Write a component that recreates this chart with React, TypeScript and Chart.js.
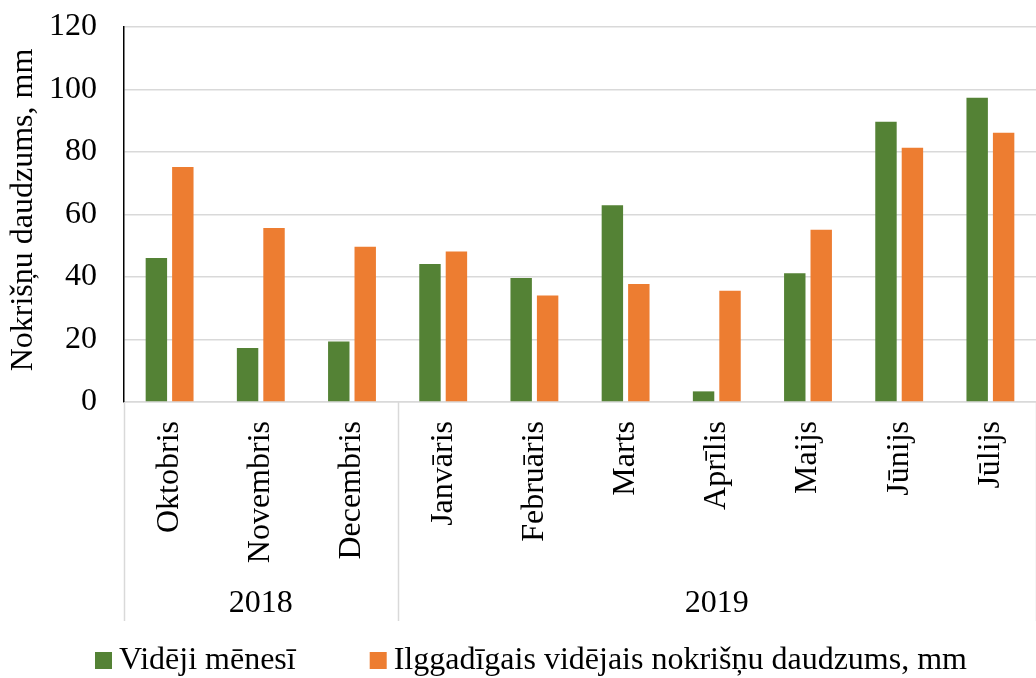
import React, { useEffect, useRef } from "react";
import { Chart, registerables } from "chart.js";

Chart.register(...registerables);

const months = ["Oktobris", "Novembris", "Decembris", "Janvāris", "Februāris", "Marts", "Aprīlis", "Maijs", "Jūnijs", "Jūlijs"];
const years = ["2018", "2019"];
const yearSpans = [3, 7];
const monthlyAvg = [46.1, 17.3, 19.4, 44.2, 39.7, 63.0, 3.4, 41.2, 89.7, 97.4];
const longTermAvg = [75.2, 55.7, 49.7, 48.2, 34.1, 37.8, 35.6, 55.1, 81.4, 86.2];
const yMin = 0;
const yMax = 120;
const yStep = 20;
const seriesNames = ["Vidēji mēnesī", "Ilggadīgais vidējais nokrišņu daudzums, mm"];
const yTitle = "Nokrišņu daudzums, mm";

const GREEN = "#548235";
const ORANGE = "#ED7D31";
const FONT = "Liberation Serif";
const FS = 32;

const W = 1036;
const H = 678;

const extrasPlugin = {
  id: "extras",
  afterDraw(chart: any) {
    const ctx = chart.ctx;
    const xs = chart.scales.x;
    const area = chart.chartArea;
    const n = months.length;
    const cw = (xs.right - xs.left) / n;
    ctx.save();
    // separators and year labels
    ctx.strokeStyle = "#d9d9d9";
    ctx.lineWidth = 1.5;
    let start = 0;
    const bounds: number[] = [0];
    yearSpans.forEach((s) => {
      start += s;
      bounds.push(start);
    });
    bounds.forEach((b) => {
      const x = Math.round(xs.left + b * cw) + 0.5;
      ctx.beginPath();
      ctx.moveTo(x, area.bottom);
      ctx.lineTo(x, 621);
      ctx.stroke();
    });
    ctx.fillStyle = "#000";
    ctx.font = `${FS}px "${FONT}"`;
    ctx.textAlign = "center";
    ctx.textBaseline = "middle";
    years.forEach((y, i) => {
      const cx = xs.left + ((bounds[i] + bounds[i + 1]) / 2) * cw;
      ctx.fillText(y, cx, 604);
    });
    // y axis title
    ctx.save();
    ctx.translate(24, 210);
    ctx.rotate(-Math.PI / 2);
    ctx.fillText(yTitle, 0, 0);
    ctx.restore();
    // legend
    const colors = [GREEN, ORANGE];
    let lx = 95;
    const ly = 661;
    ctx.textAlign = "left";
    seriesNames.forEach((name, i) => {
      ctx.fillStyle = colors[i];
      ctx.fillRect(lx, ly - 9, 17, 17);
      ctx.fillStyle = "#000";
      const tx = lx + 24;
      ctx.fillText(name, tx, ly);
      lx = tx + ctx.measureText(name).width + 74;
    });
    ctx.restore();
  },
};

export default function App() {
  const ref = useRef<HTMLCanvasElement | null>(null);
  useEffect(() => {
    if (!ref.current) return;
    const chart = new Chart(ref.current, {
      type: "bar",
      data: {
        labels: months,
        datasets: [
          {
            label: seriesNames[0],
            data: monthlyAvg,
            backgroundColor: GREEN,
            categoryPercentage: 0.58,
            barPercentage: 0.81,
          },
          {
            label: seriesNames[1],
            data: longTermAvg,
            backgroundColor: ORANGE,
            categoryPercentage: 0.58,
            barPercentage: 0.81,
          },
        ],
      },
      options: {
        responsive: false,
        animation: false,
        layout: { padding: { top: 27, left: 0, right: 0, bottom: 0 } },
        plugins: {
          legend: { display: false },
          title: { display: false },
          tooltip: { enabled: false },
        },
        scales: {
          x: {
            grid: { display: false, drawTicks: false },
            border: { display: true, color: "#d9d9d9", width: 1.5 },
            ticks: {
              font: { family: FONT, size: FS },
              color: "#000",
              minRotation: 90,
              maxRotation: 90,
              autoSkip: false,
              padding: 19,
            },
            afterFit: (scale: any) => {
              scale.height = H - 402;
              scale.paddingLeft = 0;
              scale.paddingRight = 0;
            },
          },
          y: {
            min: yMin,
            max: yMax,
            grid: { color: "#d9d9d9", lineWidth: 1.5, drawTicks: false },
            border: { display: true, color: "#000", width: 1.5 },
            ticks: {
              stepSize: yStep,
              font: { family: FONT, size: FS },
              color: "#000",
              padding: 27,
            },
            afterFit: (scale: any) => {
              scale.width = 124;
              scale.paddingTop = 0;
              scale.paddingBottom = 0;
            },
          },
        },
      },
      plugins: [extrasPlugin],
    });
    return () => chart.destroy();
  }, []);
  return (
    <div style={{ position: "fixed", left: 0, top: 0, width: W, height: H, overflow: "hidden", background: "#fff" }}>
      <canvas ref={ref} width={W} height={H} style={{ width: W, height: H, display: "block" }} />
    </div>
  );
}
